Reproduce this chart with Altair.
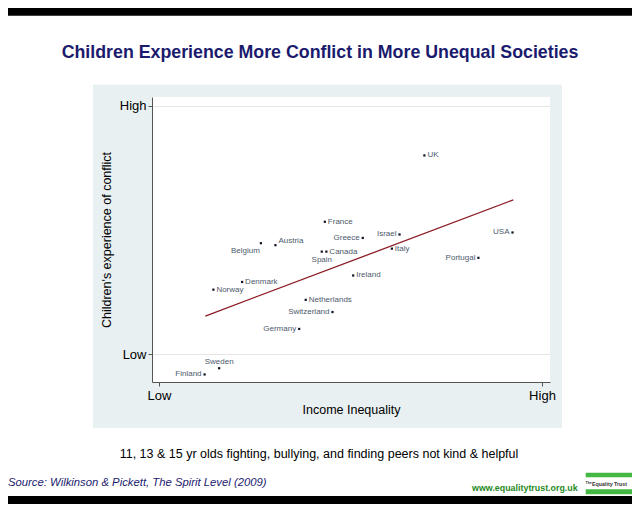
import altair as alt
import pandas as pd

# ---- data ----
countries = ["UK", "France", "Greece", "Israel", "USA", "Belgium", "Austria", "Spain",
             "Canada", "Italy", "Portugal", "Ireland", "Denmark", "Norway", "Netherlands",
             "Switzerland", "Germany", "Sweden", "Finland"]
inequality = [69.3, 43.3, 53.2, 62.8, 92.3, 26.6, 30.4, 42.5, 43.7, 60.8, 83.4, 50.7,
              21.7, 14.2, 38.3, 45.3, 36.6, 15.7, 11.9]
conflict = [80.0, 53.3, 46.8, 48.2, 49.0, 44.7, 43.9, 41.3, 41.3, 42.5, 38.8, 31.7,
            29.1, 26.0, 21.9, 17.0, 10.2, -5.6, -8.1]
label_side = ["right", "right", "left", "left", "left", "belowleft", "upright", "below",
              "right", "right", "left", "right", "right", "right", "right", "left",
              "left", "above", "left"]

fit_x = [12.1, 92.5]
fit_y = [15.4, 62.1]

tick_values = [0, 100]
tick_names = ["Low", "High"]

title_text = "Children Experience More Conflict in More Unequal Societies"
subtitle_text = "11, 13 & 15 yr olds fighting, bullying, and finding peers not kind & helpful"
source_text = "Source: Wilkinson & Pickett, The Spirit Level (2009)"
web_text = "www.equalitytrust.org.uk"

# ---- frames ----
pts = pd.DataFrame({"country": countries, "x": inequality, "y": conflict, "side": label_side})
fit = pd.DataFrame({"x": fit_x, "y": fit_y})
one = pd.DataFrame({"d": [0]})

W, H = 398, 285
FONT = "Liberation Sans"
label_expr = "datum.value == 0 ? 'Low' : 'High'"

xscale = alt.Scale(domain=[-1.83, 102.09], nice=False, zero=False)
yscale = alt.Scale(domain=[-11.14, 103.5], nice=False, zero=False)

xaxis = alt.Axis(values=tick_values, labelExpr=label_expr, title="Income Inequality",
                 grid=False, domainColor="#555555", tickColor="#555555", tickSize=4,
                 labelFontSize=13, labelColor="#000000", labelFont=FONT, labelPadding=3,
                 titleFont=FONT, titleFontSize=12.5, titleFontWeight="normal",
                 titleColor="#000000", titlePadding=1, zindex=1)
yaxis = alt.Axis(values=tick_values, labelExpr=label_expr,
                 title="Children's experience of conflict",
                 grid=True, gridColor="#e6e6e6", domainColor="#555555", tickColor="#555555",
                 tickSize=4, labelFontSize=13, labelColor="#000000", labelFont=FONT,
                 labelPadding=2, titleFont=FONT, titleFontSize=12.5,
                 titleFontWeight="normal", titleColor="#000000", titlePadding=6, zindex=1)

X = alt.X("x:Q", scale=xscale, axis=xaxis)
Y = alt.Y("y:Q", scale=yscale, axis=yaxis)

base1 = alt.Chart(one)

black_top = base1.mark_rect(color="#000000").encode(
    x=alt.value(-150), x2=alt.value(490), y=alt.value(-100), y2=alt.value(-81.3))
black_bottom = base1.mark_rect(color="#000000").encode(
    x=alt.value(-150), x2=alt.value(490), y=alt.value(399), y2=alt.value(420))
panel = base1.mark_rect(color="#e9f0f2").encode(
    x=alt.value(-59), x2=alt.value(410), y=alt.value(-12.3), y2=alt.value(331))
plotbg = base1.mark_rect(color="#ffffff").encode(
    x=alt.value(0), x2=alt.value(W), y=alt.value(0), y2=alt.value(H))

fit_line = alt.Chart(fit).mark_line(color="#8b1c24", strokeWidth=1.3).encode(x=X, y=Y)

dots = alt.Chart(pts).mark_square(size=5, color="#151525", opacity=1).encode(x=X, y=Y)

label_style = dict(fontSize=8, font=FONT, color="#4d5a6c")
def lab(side, **kw):
    return alt.Chart(pts).transform_filter(alt.datum.side == side).mark_text(
        **label_style, **kw).encode(x=X, y=Y, text="country:N")

labels = [
    lab("right", align="left", baseline="middle", dx=3),
    lab("left", align="right", baseline="middle", dx=-3),
    lab("belowleft", align="right", baseline="middle", dx=-1, dy=8),
    lab("upright", align="left", baseline="middle", dx=3, dy=-4),
    lab("below", align="center", baseline="middle", dx=0, dy=8),
    lab("above", align="center", baseline="middle", dx=0, dy=-6),
]

title = base1.mark_text(text=title_text, font=FONT, fontSize=17.8, fontWeight="bold",
                        color="#1b1b6e", align="center", baseline="middle").encode(
    x=alt.value(168), y=alt.value(-44))
subtitle = base1.mark_text(text=subtitle_text, font=FONT, fontSize=12.5, color="#000000",
                           align="center", baseline="middle").encode(
    x=alt.value(167), y=alt.value(357))
source = base1.mark_text(text=source_text, font=FONT, fontSize=11.3, fontStyle="italic",
                         color="#1b1b6e", align="left", baseline="middle").encode(
    x=alt.value(-144), y=alt.value(386.3))
web = base1.mark_text(text=web_text, font=FONT, fontSize=8.9, fontWeight="bold",
                      color="#1f8a24", align="left", baseline="middle").encode(
    x=alt.value(320), y=alt.value(391))
logo_bar1 = base1.mark_rect(color="#43b943").encode(
    x=alt.value(433.7), x2=alt.value(490), y=alt.value(375.7), y2=alt.value(380.3))
logo_bar2 = base1.mark_rect(color="#43b943").encode(
    x=alt.value(433.7), x2=alt.value(490), y=alt.value(392.3), y2=alt.value(397.3))
logo_the = base1.mark_text(text="The", font=FONT, fontSize=3.5, fontWeight="bold",
                           color="#333333", align="left", baseline="middle").encode(
    x=alt.value(433.5), y=alt.value(385.5))
logo_txt = base1.mark_text(text="Equality Trust", font=FONT, fontSize=5.3, fontWeight="bold",
                           color="#333333", align="left", baseline="middle").encode(
    x=alt.value(440), y=alt.value(386.5))

chart = alt.layer(
    black_top, black_bottom, panel, plotbg, fit_line, dots, *labels,
    title, subtitle, source, web, logo_bar1, logo_bar2, logo_the, logo_txt
).properties(
    width=W, height=H,
    autosize=alt.AutoSizeParams(type="none"),
    padding={"left": 144, "top": 89, "right": 82, "bottom": 122},
    background="#ffffff",
).configure_view(strokeWidth=0)

chart.save("out.html", embed_options={"renderer": "svg", "actions": False})
